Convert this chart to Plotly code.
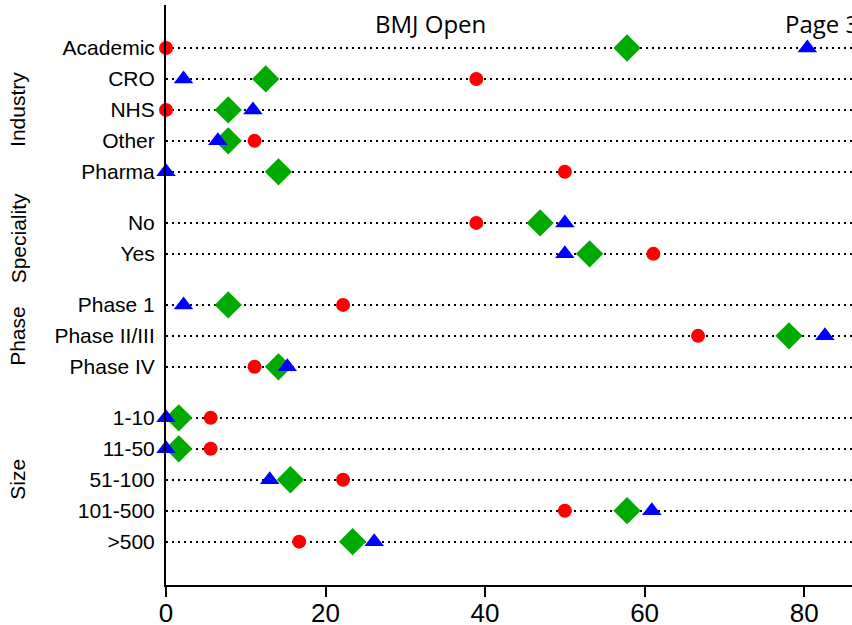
import plotly.graph_objects as go

# ---- data ----
groups = ["Industry", "Speciality", "Phase", "Size"]
industry_labels = ["Academic", "CRO", "NHS", "Other", "Pharma"]
speciality_labels = ["No", "Yes"]
phase_labels = ["Phase 1", "Phase II/III", "Phase IV"]
size_labels = ["1-10", "11-50", "51-100", "101-500", ">500"]
group_labels = [industry_labels, speciality_labels, phase_labels, size_labels]

# red circles
red_values = [0, 38.9, 0, 11.1, 50.0,
              38.9, 61.1,
              22.2, 66.7, 11.1,
              5.6, 5.6, 22.2, 50.0, 16.7]
# green diamonds
green_values = [57.8, 12.5, 7.8, 7.8, 14.1,
                46.9, 53.1,
                7.8, 78.1, 14.1,
                1.6, 1.6, 15.6, 57.8, 23.4]
# blue triangles
blue_values = [80.4, 2.2, 10.9, 6.5, 0,
               50.0, 50.0,
               2.2, 82.6, 15.2,
               0, 0, 13.0, 60.9, 26.1]

x_ticks = [0, 20, 40, 60, 80]

# ---- layout helpers ----
GAP = 0.65
labels, ypos, group_centers = [], [], []
cur = 0.0
for gi, glabels in enumerate(group_labels):
    start = cur
    for lab in glabels:
        labels.append(lab)
        ypos.append(cur)
        cur += 1
    group_centers.append((start + cur - 1) / 2)
    cur += GAP

fig = go.Figure()
fig.add_trace(go.Scatter(x=red_values, y=ypos, mode="markers", cliponaxis=False,
                         marker=dict(symbol="circle", size=14, color="#FF0000"), name="red"))
fig.add_trace(go.Scatter(x=green_values, y=ypos, mode="markers", cliponaxis=False,
                         marker=dict(symbol="diamond", size=21, color="#00AA00"), name="green"))
fig.add_trace(go.Scatter(x=blue_values, y=ypos, mode="markers", cliponaxis=False,
                         marker=dict(symbol="triangle-up", size=17, color="#0000FF"), name="blue"))

font_main = "Liberation Sans, Arial, sans-serif"
PLOT_L, PLOT_R = 166, 852
PW = PLOT_R - PLOT_L

fig.update_layout(
    width=852, height=625,
    margin=dict(l=PLOT_L, r=0, t=5, b=40, autoexpand=False),
    paper_bgcolor="white", plot_bgcolor="white",
    showlegend=False,
    font=dict(family=font_main, color="black"),
    xaxis=dict(range=[0, 86], tickvals=x_ticks, ticks="outside", ticklen=10, tickwidth=2,
               tickcolor="black", showline=True, linecolor="black", linewidth=2,
               showgrid=False, zeroline=False, automargin=False, ticklabelstandoff=-6,
               tickfont=dict(size=26, family=font_main)),
    yaxis=dict(range=[17.35, -1.39], tickvals=ypos, ticktext=labels, ticks="",
               ticklabelstandoff=5, automargin=False,
               showline=True, linecolor="black", linewidth=2, zeroline=False,
               showgrid=True, gridcolor="black", gridwidth=2, griddash="2px,4px",
               tickfont=dict(size=21, family=font_main)),
)

for g, c in zip(groups, group_centers):
    fig.add_annotation(text=g, xref="paper", x=(18 - PLOT_L) / PW, yref="y", y=c, textangle=-90,
                       showarrow=False, font=dict(size=21, family=font_main),
                       xanchor="center", yanchor="middle")

fig.add_annotation(text="BMJ Open", xref="paper", x=(430 - PLOT_L) / PW, yref="paper", y=1.0,
                   yanchor="top", xanchor="center", showarrow=False,
                   font=dict(size=24, family="Open Sans, sans-serif"))
fig.add_annotation(text="Page 3 of 8", xref="paper", x=(783 - PLOT_L) / PW, yref="paper", y=1.0,
                   yanchor="top", xanchor="left", showarrow=False,
                   font=dict(size=24, family="Open Sans, sans-serif"))

fig.write_html("out.html", config={"displayModeBar": False},
               post_script="document.body.style.margin='0';document.body.style.overflow='hidden';")
